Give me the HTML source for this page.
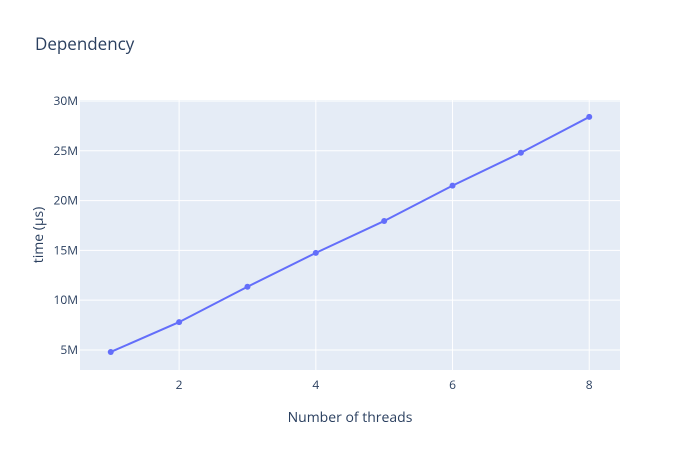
<!DOCTYPE html>
<html><head><meta charset="utf-8"><style>
body{margin:0;background:#fff;font-family:"Open Sans","Liberation Sans",sans-serif;}
svg text{font-family:"Open Sans","Liberation Sans",sans-serif;}
</style></head><body>
<svg id="chart" width="700" height="450" xmlns="http://www.w3.org/2000/svg">
<rect width="700" height="450" fill="#fff"/>
<text x="35" y="50" font-size="17" fill="#2a3f5f">Dependency</text>
<rect x="80" y="100" width="540" height="270" fill="#e5ecf6"/>
<g id="grid"></g><g id="ticks"></g><g id="series"></g>
<text x="350" y="422" font-size="14" fill="#2a3f5f" text-anchor="middle">Number of threads</text>
<text transform="translate(43,235) rotate(-90)" font-size="14" fill="#2a3f5f" text-anchor="middle">time (μs)</text>
</svg>
<script>
const threads=[1,2,3,4,5,6,7,8];
const times=[4.8,7.8,11.35,14.75,17.95,21.5,24.8,28.4];
const xTicks=[2,4,6,8];
const yTicks=[5,10,15,20,25,30];
const yTickLabels=["5M","10M","15M","20M","25M","30M"];
const ns="http://www.w3.org/2000/svg";
const X0=80,X1=620,Y0=370,Y1=100;
const xmin=0.55,xmax=8.45,ymin=2.99,ymax=30.1;
const xs=v=>X0+(v-xmin)/(xmax-xmin)*(X1-X0);
const ys=v=>Y0-(v-ymin)/(ymax-ymin)*(Y0-Y1);
function mk(t,a,p){const e=document.createElementNS(ns,t);for(const k in a)e.setAttribute(k,a[k]);p.appendChild(e);return e;}
const grid=document.getElementById('grid'),ticks=document.getElementById('ticks'),ser=document.getElementById('series');
xTicks.forEach(v=>{const l=mk('line',{x1:xs(v),x2:xs(v),y1:Y1,y2:Y0,stroke:'#fff','stroke-width':1},grid);


const t=mk('text',{x:xs(v),y:389,'font-size':12,fill:'#2a3f5f','text-anchor':'middle'},ticks);t.textContent=v;

});
yTicks.forEach((v,i)=>{const l=mk('line',{x1:X0,x2:X1,y1:ys(v),y2:ys(v),stroke:'#fff','stroke-width':1},grid);


const t=mk('text',{x:78,y:ys(v)+4,'font-size':12,fill:'#2a3f5f','text-anchor':'end'},ticks);t.textContent=yTickLabels[i];

});
const pl=mk('polyline',{points:threads.map((v,i)=>xs(v)+','+ys(times[i])).join(' '),fill:'none',stroke:'#636efa','stroke-width':2},ser);


threads.forEach((v,i)=>{const c=mk('circle',{cx:xs(v),cy:ys(times[i]),r:3,fill:'#636efa'},ser);

});
</script>
</body></html>
